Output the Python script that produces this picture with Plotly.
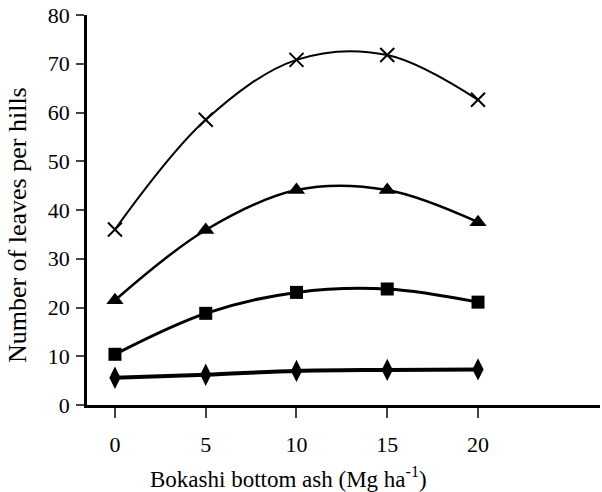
import plotly.graph_objects as go

doses = [0, 5, 10, 15, 20]
series_x = [36, 58.5, 70.8, 71.8, 62.6]
series_tri = [21.5, 35.9, 44.1, 44.1, 37.5]
series_sq = [10.4, 18.8, 23.1, 23.8, 21.1]
series_dia = [5.6, 6.2, 7.0, 7.2, 7.3]
y_ticks = [0, 10, 20, 30, 40, 50, 60, 70, 80]
x_ticks = [0, 5, 10, 15, 20]
x_title = "Bokashi bottom ash (Mg ha<sup>-1</sup>)"
y_title = "Number of leaves per hills"

FONT = "Liberation Serif"

fig = go.Figure()
fig.add_trace(go.Scatter(x=doses, y=series_x, mode="lines+markers", line_shape="spline",
                         line=dict(color="black", width=2),
                         marker=dict(symbol="x-thin", size=14, line=dict(color="black", width=2)),
                         cliponaxis=False, showlegend=False))
fig.add_trace(go.Scatter(x=doses, y=series_tri, mode="lines+markers", line_shape="spline",
                         line=dict(color="black", width=2.5),
                         marker=dict(symbol="triangle-up", size=15, color="black"),
                         cliponaxis=False, showlegend=False))
fig.add_trace(go.Scatter(x=doses, y=series_sq, mode="lines+markers", line_shape="spline",
                         line=dict(color="black", width=3),
                         marker=dict(symbol="square", size=13, color="black"),
                         cliponaxis=False, showlegend=False))
fig.add_trace(go.Scatter(x=doses, y=series_dia, mode="lines+markers", line_shape="spline",
                         line=dict(color="black", width=4),
                         marker=dict(symbol="diamond-tall", size=16, color="black"),
                         cliponaxis=False, showlegend=False))

fig.update_layout(
    width=602, height=492,
    margin=dict(l=87, r=2, t=15, b=87),
    paper_bgcolor="white", plot_bgcolor="white",
    font=dict(family=FONT, size=22, color="black"),
    annotations=[
        dict(text=x_title, xref="paper", yref="paper", x=0.392, y=-0.185,
             xanchor="center", yanchor="middle", showarrow=False,
             font=dict(family=FONT, size=23)),
        dict(text=y_title, xref="paper", yref="paper", x=-0.134, y=0.462, textangle=-90,
             xanchor="center", yanchor="middle", showarrow=False,
             font=dict(family=FONT, size=26)),
    ],
)
fig.update_xaxes(range=[-1.54, 26.72], tickvals=x_ticks, ticks="outside", ticklen=10, tickwidth=2,
                 showline=True, linecolor="black", linewidth=2.5, showgrid=False, zeroline=False,
                 tickfont=dict(family=FONT, size=22), ticklabelstandoff=8, automargin=False)
fig.update_yaxes(range=[0, 80], tickvals=y_ticks, ticks="outside", ticklen=8, tickwidth=2,
                 showline=True, linecolor="black", linewidth=2.5, showgrid=False, zeroline=False,
                 tickfont=dict(family=FONT, size=22), automargin=False, ticklabelstandoff=2)

fig.write_html("out.html", config={"displayModeBar": False},
               post_script="document.body.style.margin='0';document.body.style.padding='0';")
